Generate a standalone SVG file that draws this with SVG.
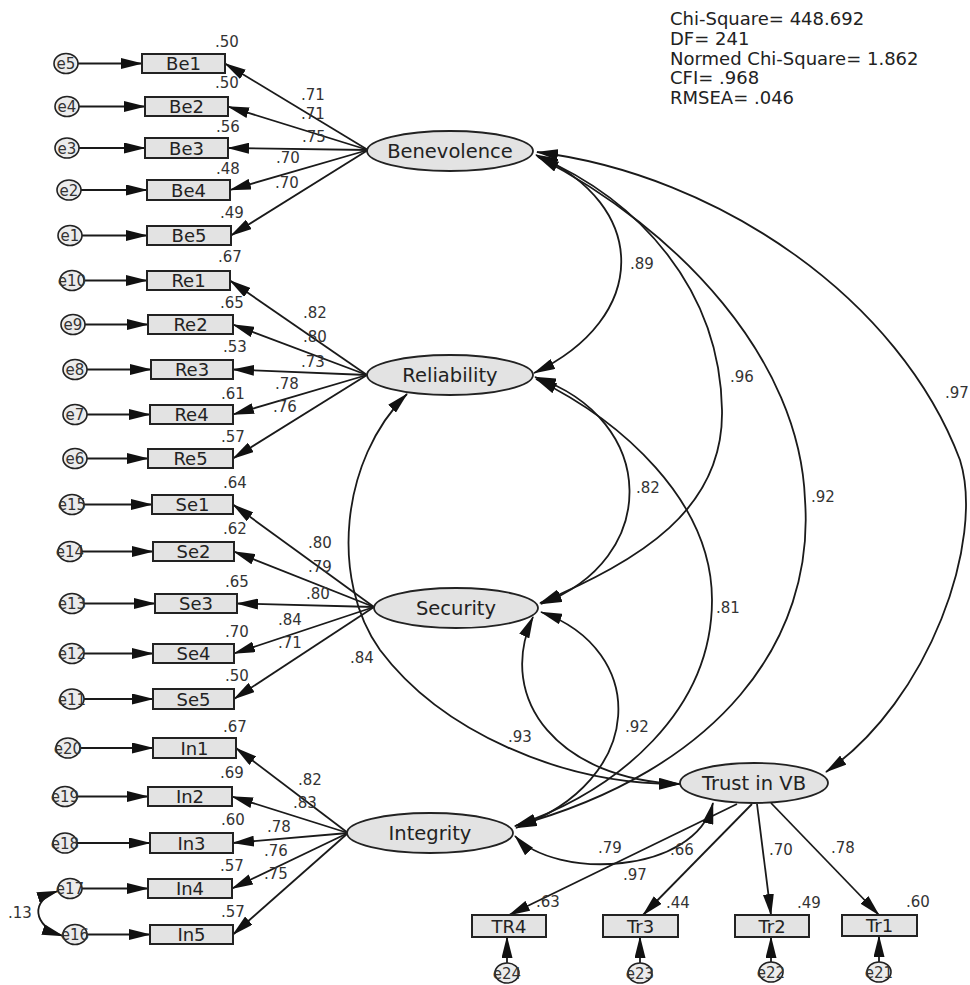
<svg xmlns="http://www.w3.org/2000/svg" width="970" height="985" viewBox="0 0 970 985">
<style>
.box{fill:#e3e3e3;stroke:#222;stroke-width:2}
.lat{fill:#e3e3e3;stroke:#222;stroke-width:1.8}
.err{fill:#ececec;stroke:#222;stroke-width:1.6}
.t{font-family:"DejaVu Sans","Liberation Sans",sans-serif;fill:#222;text-anchor:middle}
.bl{font-size:18px}
.ll{font-size:19.5px}
.n{font-family:"DejaVu Sans","Liberation Sans",sans-serif;font-size:15px;fill:#333;text-anchor:middle}
.fit{font-family:"DejaVu Sans","Liberation Sans",sans-serif;font-size:18px;fill:#222}
.a{stroke:#1a1a1a;stroke-width:1.8;fill:none;marker-end:url(#ah)}
.c{stroke:#1a1a1a;stroke-width:1.8;fill:none;marker-start:url(#ah);marker-end:url(#ah)}
</style>
<defs>
<marker id="ah" markerUnits="userSpaceOnUse" viewBox="0 0 22 11" markerWidth="22" markerHeight="11" refX="21" refY="5.5" orient="auto-start-reverse">
<path d="M0,0 L22,5.5 L0,11 z" fill="#111"/>
</marker>
</defs>
<rect width="970" height="985" fill="#fff"/>

<g id="connectors">
<!-- error arrows Benevolence -->
<line class="a" x1="78" y1="63.5" x2="142" y2="63.5"/>
<line class="a" x1="79" y1="106.5" x2="145" y2="106.5"/>
<line class="a" x1="79" y1="148" x2="145" y2="148"/>
<line class="a" x1="81" y1="190" x2="147" y2="190"/>
<line class="a" x1="82" y1="235.5" x2="147" y2="235.5"/>
<!-- Reliability -->
<line class="a" x1="84" y1="280.5" x2="147" y2="280.5"/>
<line class="a" x1="85" y1="324.5" x2="148" y2="324.5"/>
<line class="a" x1="87" y1="369.5" x2="151" y2="369.5"/>
<line class="a" x1="87" y1="414.5" x2="150" y2="414.5"/>
<line class="a" x1="87" y1="458.5" x2="148" y2="458.5"/>
<!-- Security -->
<line class="a" x1="84" y1="504.5" x2="152" y2="504.5"/>
<line class="a" x1="82" y1="551.5" x2="153" y2="551.5"/>
<line class="a" x1="84" y1="603.5" x2="155" y2="603.5"/>
<line class="a" x1="84" y1="653.5" x2="153" y2="653.5"/>
<line class="a" x1="84" y1="699" x2="153" y2="699"/>
<!-- Integrity -->
<line class="a" x1="80" y1="748" x2="153" y2="748"/>
<line class="a" x1="77" y1="796.5" x2="148" y2="796.5"/>
<line class="a" x1="77" y1="843" x2="150" y2="843"/>
<line class="a" x1="82" y1="888.5" x2="148" y2="888.5"/>
<line class="a" x1="87" y1="934.5" x2="150" y2="934.5"/>
<!-- Trust errors -->
<line class="a" x1="507" y1="963" x2="507" y2="937"/>
<line class="a" x1="640" y1="963" x2="640" y2="937"/>
<line class="a" x1="771" y1="962" x2="771" y2="937"/>
<line class="a" x1="879" y1="962" x2="879" y2="936"/>
<!-- loadings Benevolence -->
<line class="a" x1="368" y1="150" x2="225" y2="63.5"/>
<line class="a" x1="368" y1="150" x2="228" y2="106.5"/>
<line class="a" x1="368" y1="150" x2="228" y2="148"/>
<line class="a" x1="368" y1="150" x2="230" y2="190"/>
<line class="a" x1="368" y1="150" x2="231" y2="235.5"/>
<!-- loadings Reliability -->
<line class="a" x1="367" y1="375" x2="230" y2="280.5"/>
<line class="a" x1="367" y1="375" x2="233" y2="324.5"/>
<line class="a" x1="367" y1="375" x2="233" y2="369.5"/>
<line class="a" x1="367" y1="375" x2="233" y2="414.5"/>
<line class="a" x1="367" y1="375" x2="233" y2="458.5"/>
<!-- loadings Security -->
<line class="a" x1="374" y1="607" x2="233" y2="504.5"/>
<line class="a" x1="374" y1="607" x2="234" y2="551.5"/>
<line class="a" x1="374" y1="607" x2="237" y2="603.5"/>
<line class="a" x1="374" y1="607" x2="234" y2="653.5"/>
<line class="a" x1="374" y1="607" x2="234" y2="699"/>
<!-- loadings Integrity -->
<line class="a" x1="348" y1="833" x2="236" y2="748"/>
<line class="a" x1="348" y1="833" x2="232" y2="796.5"/>
<line class="a" x1="348" y1="833" x2="233" y2="843"/>
<line class="a" x1="348" y1="833" x2="232" y2="888.5"/>
<line class="a" x1="348" y1="833" x2="233" y2="934.5"/>
<!-- loadings Trust -->
<line class="a" x1="737" y1="804" x2="509" y2="915"/>
<line class="a" x1="752" y1="804" x2="643" y2="915"/>
<line class="a" x1="757" y1="804" x2="771" y2="915"/>
<line class="a" x1="771" y1="803" x2="879" y2="915"/>
<!-- covariances -->
<path class="c" d="M536,155 C650,205 650,318 534,373"/>
<path class="c" d="M537,156 C640,200 720,290 722,410 C724,510 640,560 540,603"/>
<path class="c" d="M538,157 C680,230 800,360 805,500 C815,640 720,770 515,826"/>
<path class="c" d="M537,152 C720,175 900,300 960,460 C985,540 930,700 826,772"/>
<path class="c" d="M535,377 C660,420 660,560 541,604"/>
<path class="c" d="M536,379 C620,420 712,500 712,600 C712,710 620,790 515,826"/>
<path class="c" d="M407,394 C340,460 330,580 380,650 C440,730 560,785 680,784"/>
<path class="c" d="M541,612 C648,650 648,780 516,828"/>
<path class="c" d="M533,617 C495,700 560,780 680,784"/>
<path class="c" d="M515,836 C555,880 695,875 713,803"/>
<path class="c" d="M58,891 C30,900 32,926 63,936"/>
<!-- labels -->
<g class="n">
<text x="313" y="100">.71</text><text x="313" y="119">.71</text><text x="314" y="142">.75</text><text x="288" y="163">.70</text><text x="287" y="188">.70</text>
<text x="315" y="318">.82</text><text x="315" y="342">.80</text><text x="313" y="367">.73</text><text x="287" y="389">.78</text><text x="285" y="412">.76</text>
<text x="320" y="548">.80</text><text x="320" y="572">.79</text><text x="318" y="599">.80</text><text x="290" y="625">.84</text><text x="290" y="648">.71</text>
<text x="310" y="785">.82</text><text x="305" y="808">.83</text><text x="279" y="832">.78</text><text x="276" y="856">.76</text><text x="276" y="879">.75</text>
<text x="610" y="853">.79</text><text x="682" y="855">.66</text><text x="781" y="855">.70</text><text x="843" y="853">.78</text>
<text x="642" y="269">.89</text><text x="742" y="382">.96</text><text x="823" y="502">.92</text><text x="957" y="398">.97</text>
<text x="648" y="493">.82</text><text x="728" y="613">.81</text><text x="362" y="663">.84</text><text x="637" y="732">.92</text>
<text x="520" y="742">.93</text><text x="635" y="880">.97</text><text x="20" y="918">.13</text>
</g>
</g>

<g id="fit">
<text class="fit" x="670" y="25">Chi-Square= 448.692</text>
<text class="fit" x="670" y="45">DF= 241</text>
<text class="fit" x="670" y="65">Normed Chi-Square= 1.862</text>
<text class="fit" x="670" y="84">CFI= .968</text>
<text class="fit" x="670" y="104">RMSEA= .046</text>
</g>

<!-- latent variables -->
<g id="Benevolence"><ellipse class="lat" cx="450" cy="151" rx="83" ry="20"/><text class="t ll" x="450" y="158">Benevolence</text></g>
<g id="Reliability"><ellipse class="lat" cx="450" cy="375" rx="83" ry="20"/><text class="t ll" x="450" y="382">Reliability</text></g>
<g id="Security"><ellipse class="lat" cx="456" cy="608" rx="82" ry="20"/><text class="t ll" x="456" y="615">Security</text></g>
<g id="Integrity"><ellipse class="lat" cx="430" cy="833" rx="83" ry="20"/><text class="t ll" x="430" y="840">Integrity</text></g>
<g id="TrustInVB"><ellipse class="lat" cx="754" cy="783" rx="74" ry="20"/><text class="t ll" x="754" y="790">Trust in VB</text></g>

<!-- observed variables -->
<g id="Be1"><rect class="box" x="142" y="54" width="83" height="19"/><text class="t bl" x="183.5" y="70">Be1</text><text class="n" x="227" y="47">.50</text></g>
<g id="Be2"><rect class="box" x="145" y="97" width="83" height="19"/><text class="t bl" x="186.5" y="113">Be2</text><text class="n" x="227" y="88">.50</text></g>
<g id="Be3"><rect class="box" x="145" y="138" width="83" height="20"/><text class="t bl" x="186.5" y="154.5">Be3</text><text class="n" x="228" y="132">.56</text></g>
<g id="Be4"><rect class="box" x="147" y="180" width="83" height="20"/><text class="t bl" x="188.5" y="196.5">Be4</text><text class="n" x="228" y="174">.48</text></g>
<g id="Be5"><rect class="box" x="147" y="226" width="84" height="19"/><text class="t bl" x="189" y="242">Be5</text><text class="n" x="232" y="218">.49</text></g>

<g id="Re1"><rect class="box" x="147" y="271" width="83" height="19"/><text class="t bl" x="188.5" y="287">Re1</text><text class="n" x="230" y="262">.67</text></g>
<g id="Re2"><rect class="box" x="148" y="315" width="85" height="19"/><text class="t bl" x="190.5" y="331">Re2</text><text class="n" x="232" y="308">.65</text></g>
<g id="Re3"><rect class="box" x="151" y="360" width="82" height="19"/><text class="t bl" x="192" y="376">Re3</text><text class="n" x="235" y="352">.53</text></g>
<g id="Re4"><rect class="box" x="150" y="405" width="83" height="19"/><text class="t bl" x="191.5" y="421">Re4</text><text class="n" x="233" y="399">.61</text></g>
<g id="Re5"><rect class="box" x="148" y="449" width="85" height="19"/><text class="t bl" x="190.5" y="465">Re5</text><text class="n" x="233" y="442">.57</text></g>

<g id="Se1"><rect class="box" x="152" y="495" width="81" height="19"/><text class="t bl" x="192.5" y="511">Se1</text><text class="n" x="235" y="488">.64</text></g>
<g id="Se2"><rect class="box" x="153" y="542" width="81" height="19"/><text class="t bl" x="193.5" y="558">Se2</text><text class="n" x="235" y="534">.62</text></g>
<g id="Se3"><rect class="box" x="155" y="594" width="82" height="19"/><text class="t bl" x="196" y="610">Se3</text><text class="n" x="237" y="587">.65</text></g>
<g id="Se4"><rect class="box" x="153" y="644" width="81" height="19"/><text class="t bl" x="193.5" y="660">Se4</text><text class="n" x="237" y="637">.70</text></g>
<g id="Se5"><rect class="box" x="153" y="689" width="81" height="20"/><text class="t bl" x="193.5" y="705.5">Se5</text><text class="n" x="237" y="681">.50</text></g>

<g id="In1"><rect class="box" x="153" y="738" width="83" height="20"/><text class="t bl" x="194.5" y="754.5">In1</text><text class="n" x="235" y="732">.67</text></g>
<g id="In2"><rect class="box" x="148" y="787" width="84" height="19"/><text class="t bl" x="190" y="803">In2</text><text class="n" x="232" y="778">.69</text></g>
<g id="In3"><rect class="box" x="150" y="833" width="83" height="20"/><text class="t bl" x="191.5" y="849.5">In3</text><text class="n" x="233" y="825">.60</text></g>
<g id="In4"><rect class="box" x="148" y="879" width="84" height="19"/><text class="t bl" x="190" y="895">In4</text><text class="n" x="232" y="871">.57</text></g>
<g id="In5"><rect class="box" x="150" y="925" width="83" height="19"/><text class="t bl" x="191.5" y="941">In5</text><text class="n" x="233" y="917">.57</text></g>

<g id="TR4"><rect class="box" x="472" y="915" width="74" height="22"/><text class="t bl" x="509" y="932.5">TR4</text><text class="n" x="548" y="907">.63</text></g>
<g id="Tr3"><rect class="box" x="603" y="915" width="75" height="22"/><text class="t bl" x="640.5" y="932.5">Tr3</text><text class="n" x="678" y="908">.44</text></g>
<g id="Tr2"><rect class="box" x="735" y="915" width="74" height="22"/><text class="t bl" x="772" y="932.5">Tr2</text><text class="n" x="809" y="908">.49</text></g>
<g id="Tr1"><rect class="box" x="842" y="915" width="75" height="21"/><text class="t bl" x="879.5" y="932">Tr1</text><text class="n" x="918" y="907">.60</text></g>

<!-- error terms -->
<g id="e5"><ellipse class="err" cx="66" cy="63.5" rx="12" ry="10"/><text class="n" x="66" y="69">e5</text></g>
<g id="e4"><ellipse class="err" cx="67" cy="106.5" rx="12" ry="10"/><text class="n" x="67" y="112">e4</text></g>
<g id="e3"><ellipse class="err" cx="67" cy="148" rx="12" ry="10"/><text class="n" x="67" y="153.5">e3</text></g>
<g id="e2"><ellipse class="err" cx="69" cy="190" rx="12" ry="10"/><text class="n" x="69" y="195.5">e2</text></g>
<g id="e1"><ellipse class="err" cx="70" cy="235.5" rx="12" ry="10"/><text class="n" x="70" y="241">e1</text></g>
<g id="e10"><ellipse class="err" cx="72" cy="280.5" rx="12" ry="10"/><text class="n" x="72" y="286">e10</text></g>
<g id="e9"><ellipse class="err" cx="73" cy="324.5" rx="12" ry="10"/><text class="n" x="73" y="330">e9</text></g>
<g id="e8"><ellipse class="err" cx="75" cy="369.5" rx="12" ry="10"/><text class="n" x="75" y="375">e8</text></g>
<g id="e7"><ellipse class="err" cx="75" cy="414.5" rx="12" ry="10"/><text class="n" x="75" y="420">e7</text></g>
<g id="e6"><ellipse class="err" cx="75" cy="458.5" rx="12" ry="10"/><text class="n" x="75" y="464">e6</text></g>
<g id="e15"><ellipse class="err" cx="72" cy="504.5" rx="12" ry="10"/><text class="n" x="72" y="510">e15</text></g>
<g id="e14"><ellipse class="err" cx="70" cy="551.5" rx="12" ry="10"/><text class="n" x="70" y="557">e14</text></g>
<g id="e13"><ellipse class="err" cx="72" cy="603.5" rx="12" ry="10"/><text class="n" x="72" y="609">e13</text></g>
<g id="e12"><ellipse class="err" cx="72" cy="653.5" rx="12" ry="10"/><text class="n" x="72" y="659">e12</text></g>
<g id="e11"><ellipse class="err" cx="72" cy="699" rx="12" ry="10"/><text class="n" x="72" y="704.5">e11</text></g>
<g id="e20"><ellipse class="err" cx="68" cy="748" rx="12" ry="10"/><text class="n" x="68" y="753.5">e20</text></g>
<g id="e19"><ellipse class="err" cx="65" cy="796.5" rx="12" ry="10"/><text class="n" x="65" y="802">e19</text></g>
<g id="e18"><ellipse class="err" cx="65" cy="843" rx="12" ry="10"/><text class="n" x="65" y="848.5">e18</text></g>
<g id="e17"><ellipse class="err" cx="70" cy="888.5" rx="12" ry="10"/><text class="n" x="70" y="894">e17</text></g>
<g id="e16"><ellipse class="err" cx="75" cy="934.5" rx="12" ry="10"/><text class="n" x="75" y="940">e16</text></g>
<g id="e24"><ellipse class="err" cx="507" cy="973" rx="12" ry="10"/><text class="n" x="507" y="978.5">e24</text></g>
<g id="e23"><ellipse class="err" cx="640" cy="973" rx="12" ry="10"/><text class="n" x="640" y="978.5">e23</text></g>
<g id="e22"><ellipse class="err" cx="771" cy="972" rx="12" ry="10"/><text class="n" x="771" y="977.5">e22</text></g>
<g id="e21"><ellipse class="err" cx="879" cy="972" rx="12" ry="10"/><text class="n" x="879" y="977.5">e21</text></g>
</svg>
